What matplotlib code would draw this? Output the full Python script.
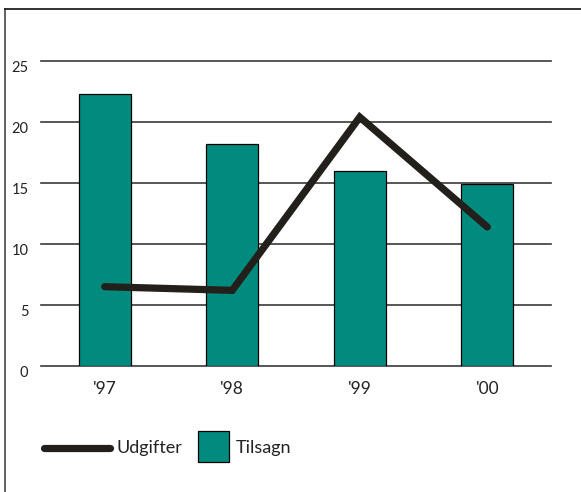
import matplotlib
matplotlib.use("Agg")
from matplotlib import pyplot as plt
from matplotlib.lines import Line2D
from matplotlib.patches import Rectangle
import numpy as np

# data
years = ["'97", "'98", "'99", "'00"]
tilsagn = [22.3, 18.2, 16.0, 14.9]
udgifter = [6.5, 6.2, 20.4, 11.4]
yticks = [0, 5, 10, 15, 20, 25]

teal = "#008b7e"
dark = "#231f1a"

plt.rcParams['font.family'] = ['Lato', 'DejaVu Sans']

W, H = 581, 492
fig = plt.figure(figsize=(W / 100, H / 100), dpi=100)
ax = fig.add_axes([41 / W, (H - 366) / H, 510 / W, 305 / H])

x = np.arange(len(years))
for t in yticks:
    ax.axhline(t, color="#3a3a3a", lw=1.2, zorder=1, clip_on=False)
ax.bar(x, tilsagn, width=0.41, color=teal, edgecolor="black", linewidth=0.9, zorder=2)
ax.plot(x, udgifter, color=dark, lw=5.2, solid_capstyle="round",
        solid_joinstyle="miter", zorder=3)

ax.set_xlim(-0.5, 3.5)
ax.set_ylim(0, 25)
for s in ax.spines.values():
    s.set_visible(False)
ax.set_xticks(x)
ax.set_xticklabels(years, fontsize=12.5, color="#222222")
ax.set_yticks(yticks)
ax.set_yticklabels([str(t) for t in yticks], fontsize=10.5, color="#222222",
                   va="top")
ax.tick_params(length=0)
ax.tick_params(axis="x", pad=11)
ax.tick_params(axis="y", pad=9)
for lab in ax.get_yticklabels():
    lab.set_y(lab.get_position()[1])

# legend drawn by hand
ly = (H - 448) / H
fig.add_artist(Line2D([44 / W, 110 / W], [ly, ly], color=dark, lw=5.2,
                      solid_capstyle="round", transform=fig.transFigure))
fig.text(116 / W, ly, "Udgifter", fontsize=13, va="center", ha="left", color="#222222")
fig.add_artist(Rectangle((198 / W, (H - 462) / H), 31 / W, 31 / H, facecolor=teal,
                         edgecolor="black", lw=0.9, transform=fig.transFigure))
fig.text(236 / W, ly, "Tilsagn", fontsize=13, va="center", ha="left", color="#222222")

# outer frame (left and top only)
fig.add_artist(Line2D([4.5 / W, 4.5 / W], [0, (H - 9) / H], color="#555555", lw=1.3,
                      transform=fig.transFigure))
fig.add_artist(Line2D([4.5 / W, 1], [(H - 9) / H] * 2, color="#222222", lw=1.3,
                      transform=fig.transFigure))

fig.savefig("out.png", dpi=100)
